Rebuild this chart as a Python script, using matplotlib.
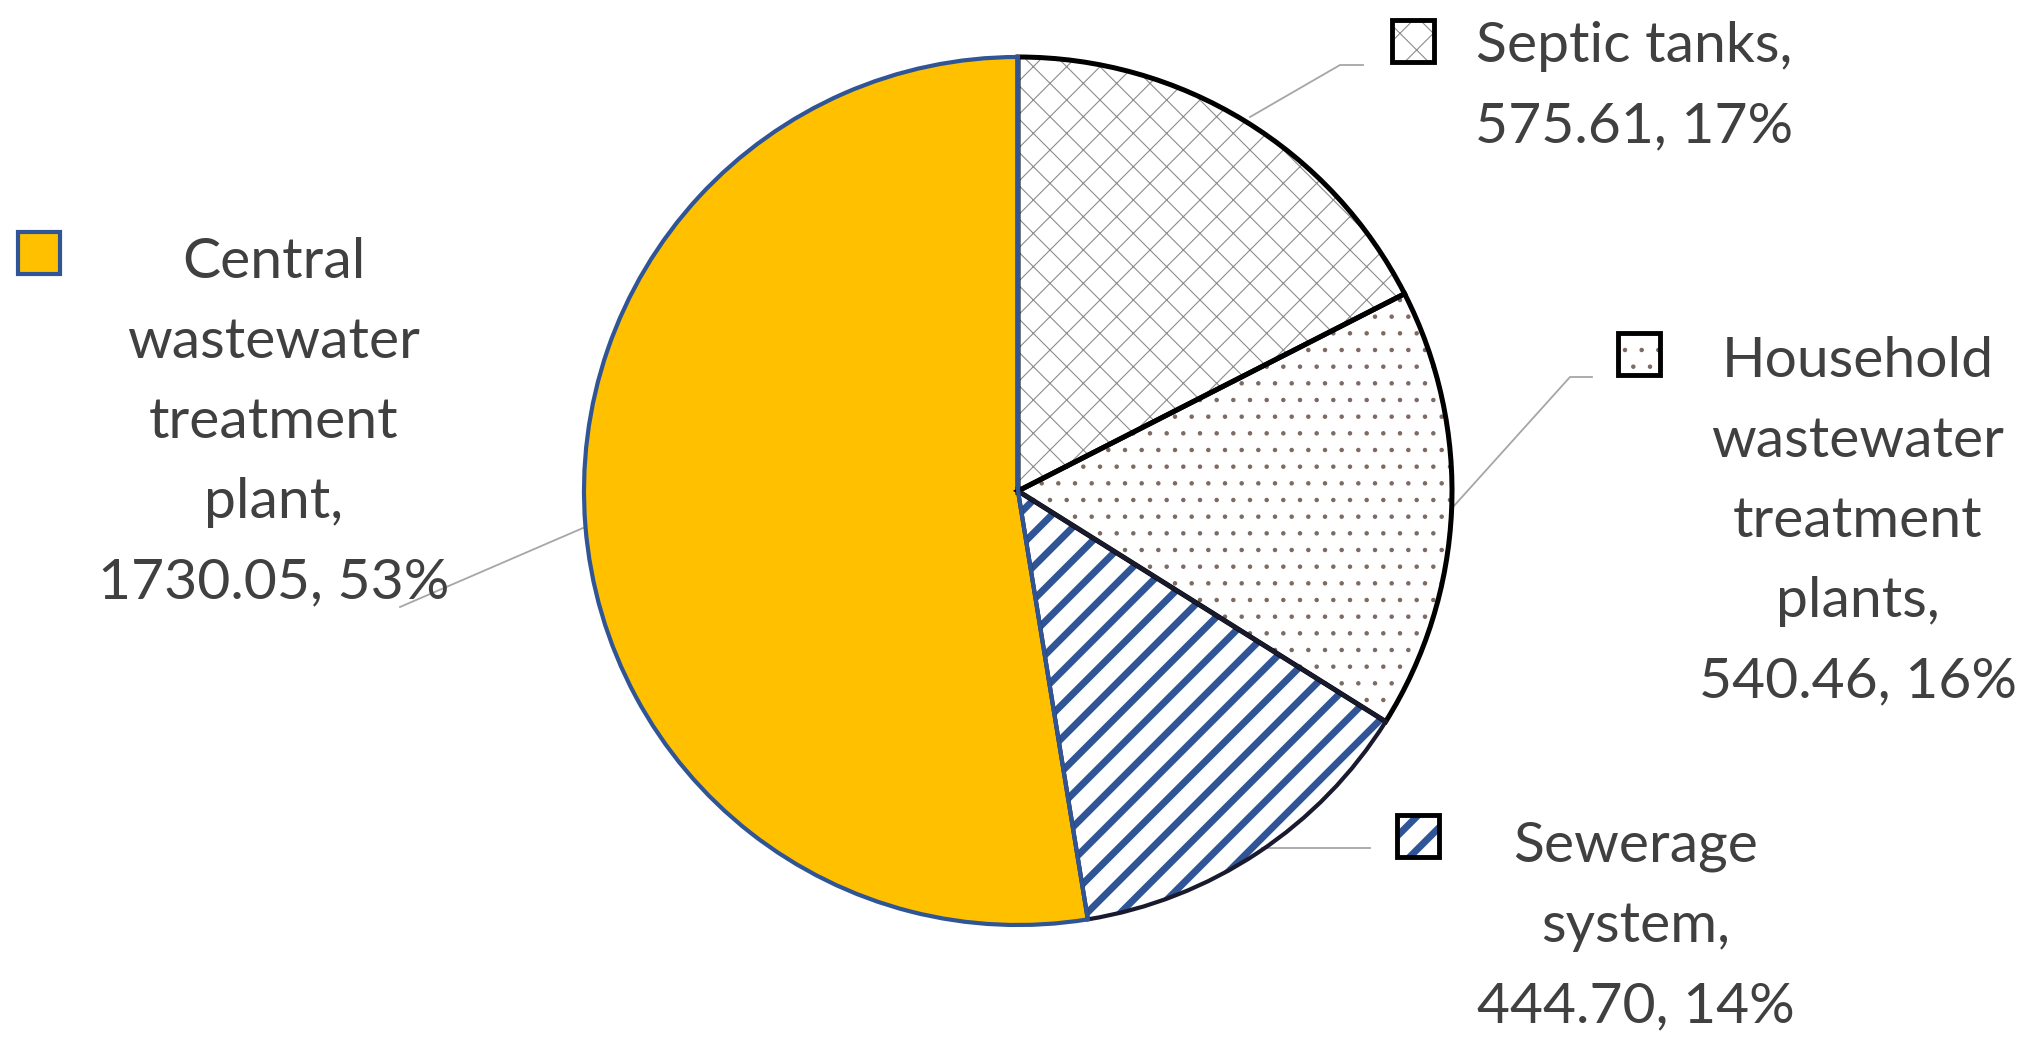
import matplotlib.pyplot as plt
from matplotlib.patches import Rectangle

# data
categories = ['Septic tanks', 'Household wastewater treatment plants',
              'Sewerage system', 'Central wastewater treatment plant']
values = [575.61, 540.46, 444.70, 1730.05]
name_lines = [['Septic tanks,'],
              ['Household', 'wastewater', 'treatment', 'plants,'],
              ['Sewerage', 'system,'],
              ['Central', 'wastewater', 'treatment', 'plant,']]

W, H = 2040, 1053
fig = plt.figure(figsize=(W / 100, H / 100), dpi=100)
ax = fig.add_axes([0, 0, 1, 1])

cx, cy, r = 1018, H - 491, 434

fills = ['white', 'white', 'white', '#FFC000']
hatches = ['x', '.', '/', None]
hatch_colors = ['#8c8c8c', '#7a6a62', '#2F5597', '#FFC000']
hatch_lw = [0.8, 0.8, 5.0, 1.0]
edge_colors = ['black', 'black', '#1a1a2e', '#2F5597']
edge_lw = [3.6, 3.6, 3.0, 3.0]


def set_hatch(p, hatch, color, lw):
    p.set_hatch(hatch)
    p.set_edgecolor(color)
    p.set_linewidth(0)
    if hasattr(p, 'set_hatch_linewidth'):
        p.set_hatch_linewidth(lw)


# fill + hatch pass
with plt.rc_context({'hatch.linewidth': 5.0}):
    wedges, _ = ax.pie(values, startangle=90, counterclock=False,
                       center=(cx, cy), radius=r, colors=fills)
for w, h, hc, hl in zip(wedges, hatches, hatch_colors, hatch_lw):
    set_hatch(w, h, hc, hl)

# outline pass
outl, _ = ax.pie(values, startangle=90, counterclock=False,
                 center=(cx, cy), radius=r,
                 wedgeprops=dict(fill=False))
for i, w in enumerate(outl):
    w.set_edgecolor(edge_colors[i])
    w.set_linewidth(edge_lw[i])
    w.set_zorder(3 if i == 3 else 2)

ax.set_xlim(0, W)
ax.set_ylim(0, H)
ax.set_aspect('equal')
ax.axis('off')

total = sum(values)
txt_color = '#404040'
font = 'Lato'
fs = 41
gap = 80

# label layout (pixel positions, top-down)
label_x = [1634, 1858, 1636, 274]
first_base = [62, 377, 862, 278]
box_xy = [(1392, 20), (1618, 333), (1397, 815), (18, 232)]
leaders = [[(1250, 117), (1340, 65), (1363, 65)],
           [(1453, 507), (1570, 377), (1592, 377)],
           [(1262, 848), (1370, 848)],
           [(583, 528), (400, 607)]]

for i in range(len(values)):
    pct = round(values[i] / total * 100)
    lines = name_lines[i] + ['%.2f, %d%%' % (values[i], pct)]
    for j, line in enumerate(lines):
        ax.text(label_x[i], H - (first_base[i] + j * gap), line,
                ha='center', va='baseline', fontsize=fs,
                family=font, color=txt_color)

    xs = [p[0] for p in leaders[i]]
    ys = [H - p[1] for p in leaders[i]]
    ax.plot(xs, ys, color='#a6a6a6', lw=1.3, zorder=1)

    bx, by = box_xy[i]
    sz = 42
    inner = Rectangle((bx, H - by - sz), sz, sz, facecolor=fills[i])
    ax.add_patch(inner)
    if hatches[i]:
        set_hatch(inner, hatches[i], hatch_colors[i], hatch_lw[i])
    else:
        inner.set_linewidth(0)
    ax.add_patch(Rectangle((bx, H - by - sz), sz, sz, fill=False,
                           edgecolor=edge_colors[i] if i == 3 else 'black',
                           lw=3.5 if i != 3 else 3.0, zorder=4))

plt.savefig('out.png', dpi=100)
